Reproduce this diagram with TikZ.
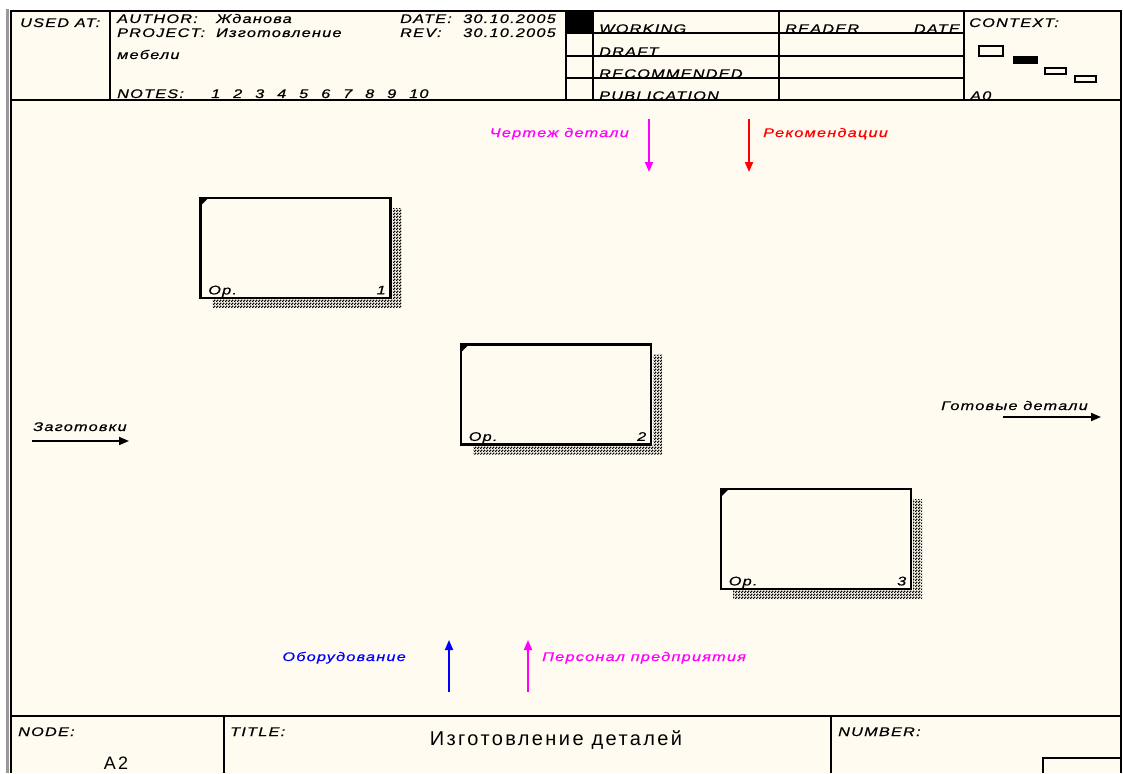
\documentclass[tikz,border=0pt]{standalone}
\usepackage{fontspec}
\setmainfont{Liberation Sans}
\newfontfamily\hfont[LetterSpace=10,FakeStretch=1.3,FakeBold=0.6]{Liberation Sans}
\newfontfamily\tfont[LetterSpace=12]{Liberation Sans}
\usetikzlibrary{arrows.meta,calc,patterns}
\definecolor{cream}{RGB}{255,251,240}
\definecolor{mag}{RGB}{255,0,255}
\definecolor{rd}{RGB}{255,0,0}
\definecolor{bl}{RGB}{0,0,255}
\pgfdeclarepatternformonly{idefhatch}{\pgfpointorigin}{\pgfpoint{3pt}{3pt}}{\pgfpoint{3pt}{3pt}}{%
  \pgfpathrectangle{\pgfpointorigin}{\pgfpoint{1.8pt}{1.8pt}}%
  \pgfpathrectangle{\pgfpoint{1.5pt}{1.5pt}}{\pgfpoint{1.8pt}{1.8pt}}%
  \pgfusepath{fill}}
\newcommand{\nb}[1]{\makebox[22pt][l]{#1}}
\begin{document}
\begin{tikzpicture}[x=1pt,y=-1pt,
  frame/.style={line width=1.6pt,draw=black},
  txt/.style={inner sep=0pt,anchor=base west,font=\hfont\itshape\fontsize{12.5}{12.5}\selectfont},
  txtr/.style={txt,anchor=base east},
  func/.style={draw=black,line width=2.8pt,fill=cream,minimum width=190pt,minimum height=100pt,inner sep=0pt},
  shade/.style={pattern=idefhatch,pattern color=black},
  flow/.style={line width=1.8pt,-{Triangle[length=10pt,width=8pt]}},
  ]
\useasboundingbox (0,0) rectangle (1123,773);
\fill[white] (0,0) rectangle (1123,773);
\fill[black!40] (6,9) rectangle (8.5,773);
\fill[cream] (11,11) rectangle (1121,773);
% outer frame and header
\draw[frame] (11,773) -- (11,11) -- (1121,11) -- (1121,773);
\draw[frame] (11,100) -- (1121,100);
\draw[frame] (110,11) -- (110,100);
\draw[frame] (566,11) -- (566,100);
\draw[frame] (593,11) -- (593,100);
\draw[frame] (779,11) -- (779,100);
\draw[frame] (964,11) -- (964,100);
\draw[frame] (566,33) -- (964,33);
\draw[frame] (566,56) -- (964,56);
\draw[frame] (566,78) -- (964,78);
\fill[black] (566,11) rectangle (593,33);
% footer
\draw[frame] (11,716) -- (1121,716);
\draw[frame] (224,716) -- (224,773);
\draw[frame] (831,716) -- (831,773);
\draw[frame] (1043,773) -- (1043,758) -- (1121,758);
% context glyphs
\draw[line width=1.2pt] (979,46) rectangle (1003,56);
\fill[black] (1013,56) rectangle (1038,64);
\draw[line width=1.2pt] (1045,68) rectangle (1066,74);
\draw[line width=1.2pt] (1075,76) rectangle (1096,82);
% header texts
\node[txt] (usedat) at (20,27) {USED AT:};
\node[txt] (author) at (117,23) {AUTHOR:};
\node[txt] (authorv) at (216,23) {Жданова};
\node[txt] (project) at (117,37) {PROJECT:};
\node[txt] (projectv) at (216,37) {Изготовление};
\node[txt] (project2) at (117,59) {мебели};
\node[txt] (notes) at (117,98) {\makebox[94pt][l]{NOTES:}\nb{1}\nb{2}\nb{3}\nb{4}\nb{5}\nb{6}\nb{7}\nb{8}\nb{9}10};
\node[txt] (date) at (400,23) {DATE:};
\node[txtr] (datev) at (556,23) {30.10.2005};
\node[txt] (rev) at (400,37) {REV:};
\node[txtr] (revv) at (556,37) {30.10.2005};
\node[txt] (working) at (599,33) {WORKING};
\node[txt] (draft) at (599,56) {DRAFT};
\node[txt] (recom) at (599,78) {RECOMMENDED};
\node[txt] (publ) at (599,100) {PUBLICATION};
\node[txt] (reader) at (785,33) {READER};
\node[txtr] (rdate) at (960,33) {DATE};
\node[txt] (context) at (969,27) {CONTEXT:};
\node[txt] (a0) at (970,100) {A0};
% footer texts
\node[txt] (nodel) at (18,736) {NODE:};
\node[txt] (titlel) at (230,736) {TITLE:};
\node[txt] (numberl) at (838,736) {NUMBER:};
\node[inner sep=0pt,anchor=base,font=\tfont\fontsize{20}{20}\selectfont] (title) at (556,745) {Изготовление деталей};
\node[inner sep=0pt,anchor=base,font=\tfont\fontsize{18}{18}\selectfont] (nodev) at (116,769) {A2};
% function boxes with shadows
\foreach \n/\cx/\cy/\k in {b1/295.5/248/1,b2/556/394.5/2,b3/816/539/3}{
  \fill[shade] (\cx+97,\cy-40) -- (\cx+106,\cy-40) -- (\cx+106,\cy+60) -- (\cx-83,\cy+60) -- (\cx-83,\cy+51) -- (\cx+97,\cy+51) -- cycle;
  \node[func] (\n) at (\cx,\cy) {};
  \fill[black] ($(\n.north west)+(1.3,1.3)$) -- ++(8,0) -- ++(-8,8) -- cycle;
  \node[txt] (\n op) at ($(\n.south west)+(9,-5)$) {Op.};
  \node[txtr] (\n num) at ($(\n.south east)+(-6,-5)$) {\k};
}
% arrows
\coordinate (c1s) at (649,119); \coordinate (c1e) at (649,172);
\draw[flow,draw=mag,fill=mag] (c1s) -- (c1e);
\node[txtr,text=mag] (c1) at (629,137) {Чертеж детали};
\coordinate (c2s) at (749,119); \coordinate (c2e) at (749,172);
\draw[flow,draw=rd,fill=rd] (c2s) -- (c2e);
\node[txt,text=rd] (c2) at (763,137) {Рекомендации};
\coordinate (m1s) at (449,692); \coordinate (m1e) at (449,640);
\draw[flow,draw=bl,fill=bl] (m1s) -- (m1e);
\node[txtr,text=bl] (m1) at (406,661) {Оборудование};
\coordinate (m2s) at (528,692); \coordinate (m2e) at (528,640);
\draw[flow,draw=mag,fill=mag] (m2s) -- (m2e);
\node[txt,text=mag] (m2) at (542,661) {Персонал предприятия};
\coordinate (i1s) at (32,441); \coordinate (i1e) at (129,441);
\draw[flow] (i1s) -- (i1e);
\node[txt] (i1) at (33,431) {Заготовки};
\coordinate (o1s) at (1003,417); \coordinate (o1e) at (1101,417);
\draw[flow] (o1s) -- (o1e);
\node[txt] (o1) at (941,410) {Готовые детали};
\end{tikzpicture}
\end{document}
